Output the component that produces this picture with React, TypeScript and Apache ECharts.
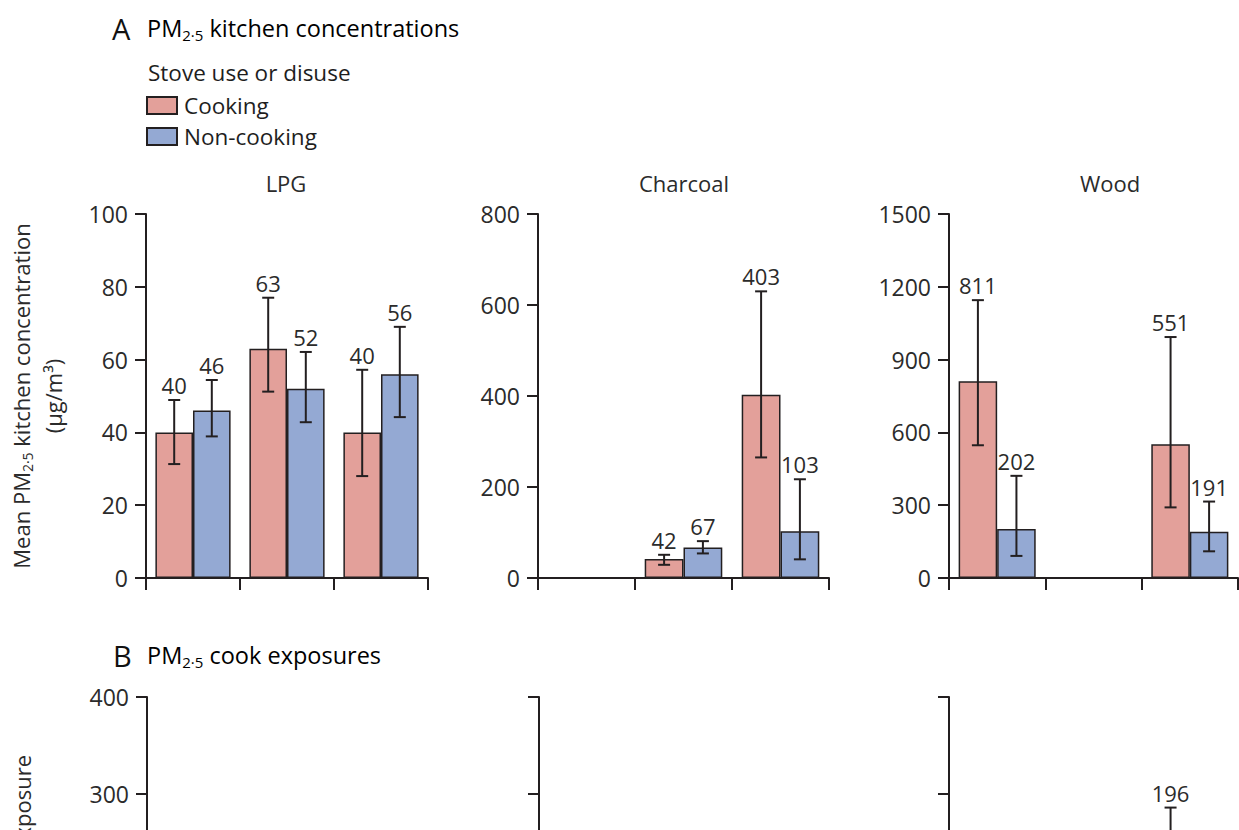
import { useEffect, useRef } from 'react';
import * as echarts from 'echarts';

// ---------- data ----------
const groups = ['Group 1', 'Group 2', 'Group 3'];
const panelNames = ['LPG', 'Charcoal', 'Wood'];
const seriesNames = ['Cooking', 'Non-cooking'];

const lpgCooking = [40, 63, 40];
const lpgCookingLow = [31.3, 51.2, 28];
const lpgCookingHigh = [48.9, 77, 57.2];
const lpgNonCooking = [46, 52, 56];
const lpgNonCookingLow = [38.9, 42.8, 44.2];
const lpgNonCookingHigh = [54.4, 62.1, 69];

const charcoalCooking = [null, 42, 403];
const charcoalCookingLow = [null, 29, 265];
const charcoalCookingHigh = [null, 51, 630];
const charcoalNonCooking = [null, 67, 103];
const charcoalNonCookingLow = [null, 54, 41];
const charcoalNonCookingHigh = [null, 81, 217];

const woodCooking = [811, null, 551];
const woodCookingLow = [547, null, 291];
const woodCookingHigh = [1145, null, 993];
const woodNonCooking = [202, null, 191];
const woodNonCookingLow = [91, null, 110];
const woodNonCookingHigh = [421, null, 315];

// Panel B (cook exposures) – only the wood cooking value is visible
const exposureWoodCooking = [null, null, 196];
const exposureWoodCookingLow = [null, null, 120];
const exposureWoodCookingHigh = [null, null, 286];

const yMaxA = [100, 800, 1500];
const yIntervalA = [20, 200, 300];
const yMaxB = 400;
const yIntervalB = 100;

// ---------- style ----------
const FONT = '"Open Sans", "Noto Sans", sans-serif';
const INK = '#231f20';
const TEXT = '#2b2b2b';
const COOK = '#e3a09a';
const NONCOOK = '#94a9d3';

const gridLefts = [146, 538, 949];
const gridWidths = [282, 291, 289];
const TOP_A = 214;
const H_A = 364;
const TOP_B = 697;
const H_B = 388;

type Num = number | null;

function rows(v: Num[], lo: Num[], hi: Num[]) {
  const out: number[][] = [];
  v.forEach((val, i) => {
    if (val != null) out.push([i, val, lo[i] as number, hi[i] as number]);
  });
  return out;
}

function errorSeries(idx: number, data: number[][], side: number) {
  return {
    type: 'custom',
    xAxisIndex: idx,
    yAxisIndex: idx,
    z: 5,
    silent: true,
    encode: { x: 0, y: 1 },
    data,
    renderItem: (_p: any, api: any) => {
      const c = api.value(0);
      const v = api.value(1);
      const lo = api.value(2);
      const hi = api.value(3);
      const band = api.size([1, 0])[0];
      const pHi = api.coord([c, hi]);
      const pLo = api.coord([c, lo]);
      const x = pHi[0] + side * band * 0.2;
      const cap = 6;
      const ls = { stroke: INK, lineWidth: 2 };
      return {
        type: 'group',
        children: [
          { type: 'line', shape: { x1: x, y1: pHi[1], x2: x, y2: pLo[1] }, style: ls },
          { type: 'line', shape: { x1: x - cap, y1: pHi[1], x2: x + cap, y2: pHi[1] }, style: ls },
          { type: 'line', shape: { x1: x - cap, y1: pLo[1], x2: x + cap, y2: pLo[1] }, style: ls },
          {
            type: 'text',
            x,
            y: pHi[1] - 15,
            style: {
              text: String(Math.round(v)),
              fontSize: 22,
              fontFamily: FONT,
              fill: TEXT,
              align: 'center',
              verticalAlign: 'middle',
            },
          },
        ],
      };
    },
  };
}

function barSeries(idx: number, name: string, data: Num[], color: string) {
  return {
    type: 'bar',
    name,
    xAxisIndex: idx,
    yAxisIndex: idx,
    data,
    barWidth: '40%',
    barGap: '0%',
    z: 2,
    itemStyle: { color, borderColor: INK, borderWidth: 1.5 },
  };
}

const nameRich = {
  t: { fontSize: 22, fontFamily: FONT, color: TEXT, lineHeight: 26 },
  t2: { fontSize: 22, fontFamily: FONT, color: TEXT, lineHeight: 38 },
  s: { fontSize: 14, fontFamily: FONT, color: TEXT, lineHeight: 14, verticalAlign: 'bottom' },
};

const titleRich = {
  t: { fontSize: 23.5, fontFamily: FONT, color: '#1e1e1e', lineHeight: 29 },
  s: { fontSize: 15, fontFamily: FONT, color: '#1e1e1e', lineHeight: 15, verticalAlign: 'bottom' },
};

function buildOption() {
  const grids: any[] = [];
  const xAxes: any[] = [];
  const yAxes: any[] = [];
  const series: any[] = [];

  const axisLine = { show: true, lineStyle: { color: INK, width: 2 } };

  for (let row = 0; row < 2; row++) {
    for (let p = 0; p < 3; p++) {
      const idx = row * 3 + p;
      grids.push({
        left: gridLefts[p] + (row === 1 && p < 2 ? 1 : 0),
        top: row === 0 ? TOP_A : TOP_B,
        width: gridWidths[p],
        height: row === 0 ? H_A : H_B,
        containLabel: false,
        outerBoundsMode: 'none',
      });
      xAxes.push({
        type: 'category',
        gridIndex: idx,
        data: groups,
        axisLine,
        axisTick: { show: true, length: 12, lineStyle: { color: INK, width: 2 } },
        axisLabel: { show: false },
        splitLine: { show: false },
      });
      const first = p === 0;
      yAxes.push({
        type: 'value',
        gridIndex: idx,
        min: 0,
        max: row === 0 ? yMaxA[p] : yMaxB,
        interval: row === 0 ? yIntervalA[p] : yIntervalB,
        axisLine,
        axisTick: { show: true, length: 11, lineStyle: { color: INK, width: 2 } },
        axisLabel: {
          show: row === 0 || first,
          fontSize: 23,
          fontFamily: FONT,
          color: TEXT,
          margin: 18,
          formatter: (v: number) => String(v),
        },
        splitLine: { show: false },
        name: first
          ? row === 0
            ? '{t|Mean PM}{s|2·5}{t| kitchen concentration}\n{t2|(µg/m³)}'
            : '{t|Mean PM}{s|2·5}{t| cook exposure}\n{t2|(µg/m³)}'
          : '',
        nameLocation: 'middle',
        nameGap: 74,
        nameRotate: 90,
        nameTextStyle: { rich: nameRich },
      });
    }
  }

  // Panel A
  series.push(barSeries(0, seriesNames[0], lpgCooking, COOK));
  series.push(barSeries(0, seriesNames[1], lpgNonCooking, NONCOOK));
  series.push(errorSeries(0, rows(lpgCooking, lpgCookingLow, lpgCookingHigh), -1));
  series.push(errorSeries(0, rows(lpgNonCooking, lpgNonCookingLow, lpgNonCookingHigh), 1));

  series.push(barSeries(1, seriesNames[0], charcoalCooking, COOK));
  series.push(barSeries(1, seriesNames[1], charcoalNonCooking, NONCOOK));
  series.push(errorSeries(1, rows(charcoalCooking, charcoalCookingLow, charcoalCookingHigh), -1));
  series.push(errorSeries(1, rows(charcoalNonCooking, charcoalNonCookingLow, charcoalNonCookingHigh), 1));

  series.push(barSeries(2, seriesNames[0], woodCooking, COOK));
  series.push(barSeries(2, seriesNames[1], woodNonCooking, NONCOOK));
  series.push(errorSeries(2, rows(woodCooking, woodCookingLow, woodCookingHigh), -1));
  series.push(errorSeries(2, rows(woodNonCooking, woodNonCookingLow, woodNonCookingHigh), 1));

  // Panel B
  series.push(barSeries(5, seriesNames[0], exposureWoodCooking, COOK));
  series.push(barSeries(5, seriesNames[1], [null, null, null], NONCOOK));
  series.push(errorSeries(5, rows(exposureWoodCooking, exposureWoodCookingLow, exposureWoodCookingHigh), -1));

  const panelCenters = [286, 684, 1110];

  const graphic: any[] = [
    { type: 'text', x: 112, y: 28, style: { text: 'A', fontSize: 29, fontFamily: FONT, fill: '#111', verticalAlign: 'middle', align: 'left' } },
    {
      type: 'text', x: 147, y: 28,
      style: { text: '{t|PM}{s|2·5}{t| kitchen concentrations}', rich: titleRich, verticalAlign: 'middle', align: 'left' },
    },
    { type: 'text', x: 148, y: 72, style: { text: 'Stove use or disuse', fontSize: 22.5, fontFamily: FONT, fill: '#1e1e1e', verticalAlign: 'middle', align: 'left' } },
    { type: 'text', x: 113, y: 655, style: { text: 'B', fontSize: 29, fontFamily: FONT, fill: '#111', verticalAlign: 'middle', align: 'left' } },
    {
      type: 'text', x: 147, y: 655,
      style: { text: '{t|PM}{s|2·5}{t| cook exposures}', rich: titleRich, verticalAlign: 'middle', align: 'left' },
    },
  ];
  panelNames.forEach((n, i) => {
    graphic.push({
      type: 'text', x: panelCenters[i], y: 183,
      style: { text: n, fontSize: 22, fontFamily: FONT, fill: TEXT, align: 'center', verticalAlign: 'middle' },
    });
  });

  return {
    animation: false,
    backgroundColor: '#ffffff',
    textStyle: { fontFamily: FONT },
    legend: {
      data: seriesNames,
      orient: 'vertical',
      left: 146,
      top: 94,
      padding: 0,
      itemWidth: 30,
      itemHeight: 17,
      itemGap: 8,
      icon: 'rect',
      selectedMode: false,
      itemStyle: { borderColor: INK, borderWidth: 2 },
      textStyle: { fontSize: 22.5, fontFamily: FONT, color: '#1e1e1e', padding: [0, 0, 0, 2] },
    },
    grid: grids,
    xAxis: xAxes,
    yAxis: yAxes,
    series,
    graphic,
  };
}

export default function App() {
  const ref = useRef<HTMLDivElement>(null);
  useEffect(() => {
    if (!ref.current) return;
    const chart = echarts.init(ref.current, undefined, { renderer: 'svg' });
    chart.setOption(buildOption() as any);
    return () => chart.dispose();
  }, []);
  return (
    <div
      ref={ref}
      style={{ position: 'fixed', left: 0, top: 0, width: 1239, height: 830, background: '#fff' }}
    />
  );
}
